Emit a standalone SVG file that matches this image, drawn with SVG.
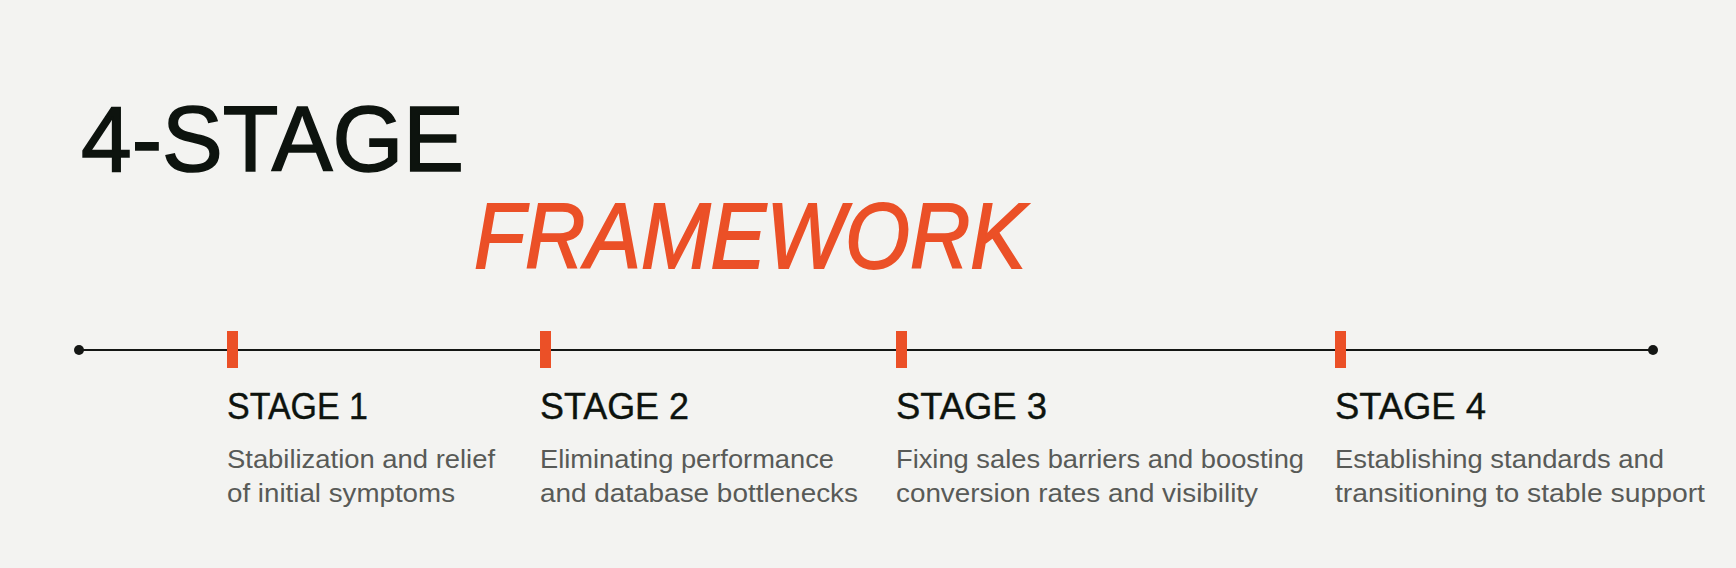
<svg xmlns="http://www.w3.org/2000/svg" width="1736" height="568" viewBox="0 0 1736 568">
<style>
.title{font-family:"Liberation Sans",Arial,sans-serif;font-size:93px;fill:#0d130e;stroke:#0d130e;stroke-width:1.6}
.accent{font-family:"Liberation Sans",Arial,sans-serif;font-size:93px;font-style:italic;fill:#eb5027;stroke:#eb5027;stroke-width:1.8}
.stage{font-family:"Liberation Sans",Arial,sans-serif;font-size:36px;fill:#0d130e;stroke:#0d130e;stroke-width:0.4}
.desc{font-family:"Liberation Sans",Arial,sans-serif;font-size:25px;fill:#585a57}
.tick{fill:#eb5027}
.axis{stroke:#141614;stroke-width:2;fill:none}
.dot{fill:#141614}
</style>
<rect width="1736" height="568" fill="#f3f3f1"/>
<g id="title">
<text class="title" x="81" y="171" textLength="383" lengthAdjust="spacingAndGlyphs">4-STAGE</text>
<text class="accent" x="474" y="268" textLength="552" lengthAdjust="spacingAndGlyphs">FRAMEWORK</text>
</g>
<g id="connectors">
<line class="axis" x1="79" y1="350" x2="1653" y2="350"/>
<circle class="dot" cx="79" cy="350" r="5"/>
<circle class="dot" cx="1653" cy="350" r="5"/>
</g>
<g id="stage1">
<rect class="tick" x="227" y="331" width="11" height="37"/>
<text class="stage" x="227" y="419" textLength="141" lengthAdjust="spacingAndGlyphs">STAGE 1</text>
<text class="desc" x="227" y="468" textLength="268" lengthAdjust="spacingAndGlyphs">Stabilization and relief</text>
<text class="desc" x="227" y="502" textLength="228" lengthAdjust="spacingAndGlyphs">of initial symptoms</text>
</g>
<g id="stage2">
<rect class="tick" x="540" y="331" width="11" height="37"/>
<text class="stage" x="540" y="419" textLength="149" lengthAdjust="spacingAndGlyphs">STAGE 2</text>
<text class="desc" x="540" y="468" textLength="294" lengthAdjust="spacingAndGlyphs">Eliminating performance</text>
<text class="desc" x="540" y="502" textLength="318" lengthAdjust="spacingAndGlyphs">and database bottlenecks</text>
</g>
<g id="stage3">
<rect class="tick" x="896" y="331" width="11" height="37"/>
<text class="stage" x="896" y="419" textLength="151" lengthAdjust="spacingAndGlyphs">STAGE 3</text>
<text class="desc" x="896" y="468" textLength="408" lengthAdjust="spacingAndGlyphs">Fixing sales barriers and boosting</text>
<text class="desc" x="896" y="502" textLength="362" lengthAdjust="spacingAndGlyphs">conversion rates and visibility</text>
</g>
<g id="stage4">
<rect class="tick" x="1335" y="331" width="11" height="37"/>
<text class="stage" x="1335" y="419" textLength="151" lengthAdjust="spacingAndGlyphs">STAGE 4</text>
<text class="desc" x="1335" y="468" textLength="329" lengthAdjust="spacingAndGlyphs">Establishing standards and</text>
<text class="desc" x="1335" y="502" textLength="370" lengthAdjust="spacingAndGlyphs">transitioning to stable support</text>
</g>
</svg>
